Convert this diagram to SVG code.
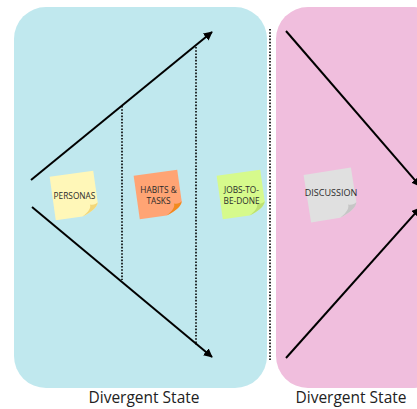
<svg xmlns="http://www.w3.org/2000/svg" width="417" height="409" viewBox="0 0 417 409">
<style>
.line{stroke:#000;stroke-width:2;fill:none}
.dot{stroke:#000;stroke-width:1.6;stroke-dasharray:1.6,1.6;fill:none}
.lbl{font-family:"Open Sans","Noto Sans",sans-serif;font-size:15.5px;fill:#222;text-anchor:middle}
.nt{font-family:"Open Sans","Noto Sans",sans-serif;font-size:8.3px;fill:#2a2a2a;text-anchor:middle}
</style>
<defs>
<marker id="ah" viewBox="0 0 10 10" refX="9" refY="5" markerWidth="9" markerHeight="9" markerUnits="userSpaceOnUse" orient="auto">
<path d="M0,0 L10,5 L0,10 Z" fill="#000"/>
</marker>
<path id="note" d="M-22,-22 L22,-22 L22,10 C21,15 14,19 5,22 L-22,22 Z"/>
<path id="fold" d="M22,10 C21,15 14,19 5,22 C12,18 15,14 14,11 C17,12 20,12 22,10 Z"/>
</defs>
<g id="bg">
<rect x="14" y="7" width="253" height="381" rx="32" fill="#C0E8EE"/>
<rect x="276" y="7" width="170" height="381" rx="32" fill="#F0BEDD"/>
</g>
<g id="connectors">
<line class="line" x1="31" y1="180" x2="212" y2="32" marker-end="url(#ah)"/>
<line class="line" x1="32" y1="207" x2="212" y2="357" marker-end="url(#ah)"/>
<line class="line" x1="286" y1="31" x2="420" y2="186" marker-end="url(#ah)"/>
<line class="line" x1="286" y1="358" x2="420" y2="208" marker-end="url(#ah)"/>
<line class="dot" x1="122" y1="106" x2="122" y2="280"/>
<line class="dot" x1="196" y1="47" x2="196" y2="345"/>
<line class="dot" x1="270" y1="29" x2="270" y2="360"/>
</g>
<g id="personas" transform="translate(74.5,195.5) rotate(-8)">
<use href="#note" fill="#FFF7B8"/>
<use href="#fold" fill="#F2D77A"/>
<text class="nt" x="0" y="3" transform="rotate(8)">PERSONAS</text>
</g>
<g id="habits" transform="translate(158.5,194.5) rotate(-8)">
<use href="#note" fill="#FFA474"/>
<use href="#fold" fill="#F08A1E"/>
<g transform="rotate(8)">
<text class="nt" x="0" y="-2">HABITS &amp;</text>
<text class="nt" x="0" y="9.5">TASKS</text>
</g>
</g>
<g id="jobs" transform="translate(241.5,194.5) rotate(-8)">
<use href="#note" fill="#D6FA8C"/>
<use href="#fold" fill="#BDE070"/>
<g transform="rotate(8)">
<text class="nt" x="0" y="-2">JOBS-TO-</text>
<text class="nt" x="0" y="9.5">BE-DONE</text>
</g>
</g>
<g id="discussion" transform="translate(331,195) rotate(-9) scale(1.09)">
<use href="#note" fill="#E0E0E0"/>
<use href="#fold" fill="#C6C6C6"/>
<text class="nt" x="0" y="0.5" transform="rotate(9)" font-size="7.8">DISCUSSION</text>
</g>
<g id="labels">
<text class="lbl" x="144" y="403">Divergent State</text>
<text class="lbl" x="351" y="403">Divergent State</text>
</g>
</svg>
